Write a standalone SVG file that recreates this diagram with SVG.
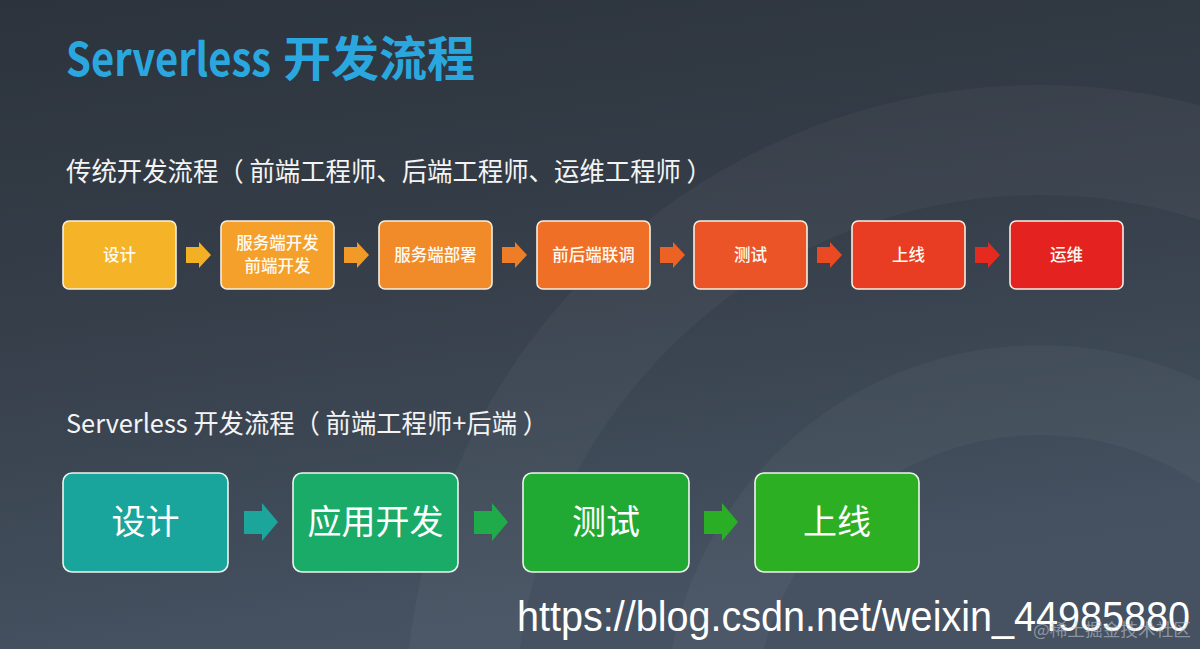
<svg xmlns="http://www.w3.org/2000/svg" width="1200" height="649" viewBox="0 0 1200 649">
  <defs>
    <linearGradient id="bg" x1="0" y1="0" x2="0.25" y2="1">
      <stop offset="0" stop-color="#2c333c"/>
      <stop offset="0.5" stop-color="#363f4a"/>
      <stop offset="1" stop-color="#465262"/>
    </linearGradient>
    <style>
      .box1 { stroke: #f6efe4; stroke-width: 1.6; }
      .box2 { stroke: #eef6ee; stroke-width: 1.6; }
      .t1 { font-family: "Noto Sans CJK SC", "Noto Sans", sans-serif; font-size: 16.5px; fill: #fffaf2; text-anchor: middle; font-weight: 500; }
      .t2 { font-family: "Noto Sans CJK SC", "Noto Sans", sans-serif; font-size: 34px; fill: #ffffff; text-anchor: middle; }
      .sub { font-family: "Noto Sans CJK SC", "Noto Sans", sans-serif; font-size: 26px; fill: #f4f4f4; }
    </style>
  </defs>

  <rect x="0" y="0" width="1200" height="649" fill="url(#bg)"/>
  <g id="background-rings" fill="none" stroke="#ffffff">
    <circle cx="1040" cy="720" r="580" stroke-width="110" stroke-opacity="0.035"/>
    <circle cx="1040" cy="720" r="330" stroke-width="90" stroke-opacity="0.035"/>
  </g>

  <text id="title" x="66" y="76" font-family="'Noto Sans CJK SC', 'Noto Sans', sans-serif" font-weight="bold" fill="#2ba7df"><tspan font-size="46" textLength="205" lengthAdjust="spacingAndGlyphs">Serverless</tspan><tspan x="283" font-size="48">开发流程</tspan></text>

  <text id="subtitle1" class="sub" x="66" y="181" font-size="27" textLength="646" lengthAdjust="spacingAndGlyphs">传统开发流程（ 前端工程师、后端工程师、运维工程师 ）</text>

  <text id="subtitle2" class="sub" x="66" y="433" textLength="482" lengthAdjust="spacingAndGlyphs">Serverless 开发流程（ 前端工程师+后端 ）</text>

  <g id="connectors">
    <path d="M186 247 H199 V242 L211 255 L199 268 V263 H186 Z" fill="#f3b024"/>
    <path d="M344 247 H357 V242 L369 255 L357 268 V263 H344 Z" fill="#f29a28"/>
    <path d="M502 247 H515 V242 L527 255 L515 268 V263 H502 Z" fill="#ee7d27"/>
    <path d="M660 247 H673 V242 L685 255 L673 268 V263 H660 Z" fill="#ec6225"/>
    <path d="M817 247 H830 V242 L842 255 L830 268 V263 H817 Z" fill="#e94a24"/>
    <path d="M975 247 H988 V242 L1000 255 L988 268 V263 H975 Z" fill="#e52a20"/>

    <path d="M244 511 H262 V503 L278 522 L262 541 V534 H244 Z" fill="#1ba59b"/>
    <path d="M474 511 H492 V503 L508 522 L492 541 V534 H474 Z" fill="#1fab4a"/>
    <path d="M704 511 H722 V503 L738 522 L722 541 V534 H704 Z" fill="#2aae26"/>
  </g>

  <g id="node-design1">
    <rect class="box1" x="63" y="221" width="113" height="68" rx="6" fill="#f5b427"/>
    <text class="t1" x="119.5" y="261">设计</text>
  </g>
  <g id="node-dev1">
    <rect class="box1" x="221" y="221" width="113" height="68" rx="6" fill="#f4a02b"/>
    <text class="t1" x="277.5" y="249">服务端开发</text>
    <text class="t1" x="277.5" y="272">前端开发</text>
  </g>
  <g id="node-deploy1">
    <rect class="box1" x="379" y="221" width="113" height="68" rx="6" fill="#f18a29"/>
    <text class="t1" x="435.5" y="261">服务端部署</text>
  </g>
  <g id="node-integrate1">
    <rect class="box1" x="537" y="221" width="113" height="68" rx="6" fill="#ee6f25"/>
    <text class="t1" x="593.5" y="261">前后端联调</text>
  </g>
  <g id="node-test1">
    <rect class="box1" x="694" y="221" width="113" height="68" rx="6" fill="#eb5426"/>
    <text class="t1" x="750.5" y="261">测试</text>
  </g>
  <g id="node-release1">
    <rect class="box1" x="852" y="221" width="113" height="68" rx="6" fill="#e83c23"/>
    <text class="t1" x="908.5" y="261">上线</text>
  </g>
  <g id="node-ops1">
    <rect class="box1" x="1010" y="221" width="113" height="68" rx="6" fill="#e42220"/>
    <text class="t1" x="1066.5" y="261">运维</text>
  </g>

  <g id="node-design2">
    <rect class="box2" x="63" y="473" width="165" height="99" rx="9" fill="#19a59c"/>
    <text class="t2" x="145.5" y="534">设计</text>
  </g>
  <g id="node-dev2">
    <rect class="box2" x="293" y="473" width="165" height="99" rx="9" fill="#1aab68"/>
    <text class="t2" x="375.5" y="534">应用开发</text>
  </g>
  <g id="node-test2">
    <rect class="box2" x="523" y="473" width="166" height="99" rx="9" fill="#21aa33"/>
    <text class="t2" x="606" y="534">测试</text>
  </g>
  <g id="node-release2">
    <rect class="box2" x="755" y="473" width="164" height="99" rx="9" fill="#2daf23"/>
    <text class="t2" x="837" y="534">上线</text>
  </g>

  <text id="url" x="517" y="631" font-family="'Liberation Sans', Arial, sans-serif" font-size="43" fill="#ffffff" textLength="673" lengthAdjust="spacingAndGlyphs">https://blog.csdn.net/weixin_44985880</text>
  <text id="watermark" x="1033" y="636" font-family="'Noto Sans CJK SC', sans-serif" font-size="17" fill="#c9ced6" fill-opacity="0.55" textLength="158" lengthAdjust="spacingAndGlyphs">@稀土掘金技术社区</text>
</svg>
